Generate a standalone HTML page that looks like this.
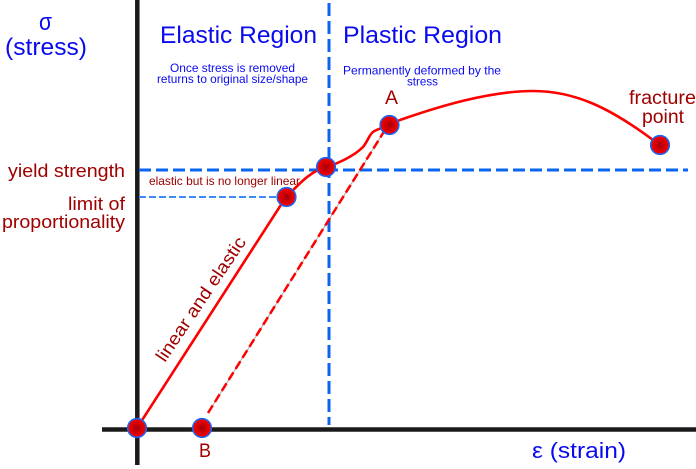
<!DOCTYPE html>
<html>
<head>
<meta charset="utf-8">
<style>
  html,body{margin:0;padding:0;background:#ffffff;}
  svg{display:block;}
  .blue{fill:#0a0af0;font-family:"Liberation Sans",Arial,sans-serif;}
  .dred{fill:#a00000;font-family:"Liberation Sans",Arial,sans-serif;}
</style>
</head>
<body>
<svg width="696" height="469" viewBox="0 0 696 469" xmlns="http://www.w3.org/2000/svg">
  <defs>
    <radialGradient id="dot" cx="50%" cy="50%" r="50%">
      <stop offset="0%" stop-color="#a00010"/>
      <stop offset="55%" stop-color="#d80000"/>
      <stop offset="100%" stop-color="#ff0000"/>
    </radialGradient>
  </defs>
  <rect width="696" height="469" fill="#ffffff"/>

  <!-- axes -->
  <line x1="137.3" y1="0" x2="137.3" y2="465" stroke="#1a1a1a" stroke-width="4.5"/>
  <line x1="102" y1="429.5" x2="696" y2="429.5" stroke="#1a1a1a" stroke-width="4.4"/>

  <!-- dashed guide lines -->
  <line x1="329" y1="3" x2="329" y2="425" stroke="#0a64f0" stroke-width="3" stroke-dasharray="13 5"/>
  <line x1="139" y1="170" x2="688" y2="170" stroke="#0a64f0" stroke-width="3" stroke-dasharray="12 5"/>
  <line x1="139" y1="197" x2="280" y2="197" stroke="#3a8af8" stroke-width="2" stroke-dasharray="7 3"/>

  <!-- dashed red unloading line -->
  <line x1="208" y1="413" x2="385" y2="130" stroke="#999999" stroke-width="0.8"/>
  <line x1="208" y1="413" x2="385" y2="130" stroke="#ff0000" stroke-width="2.5" stroke-dasharray="9 4"/>

  <!-- stress-strain curve -->
  <path d="M137,428 L286,197 C296,188 308,172 326,167 C340,163 355,155 363,147 C368,141 369,135 373,132 C377,129 383,128 389,125 L400,120 C440,106 490,91 533,91 C575,91 610,108 653,140"
        fill="none" stroke="#ff0000" stroke-width="2.6" stroke-linejoin="round" stroke-linecap="round"/>

  <!-- points -->
  <g stroke="#1a64f0" stroke-width="1.6" fill="url(#dot)">
    <circle cx="137" cy="428" r="9.3"/>
    <circle cx="202" cy="428" r="9.3"/>
    <circle cx="286.5" cy="197" r="9.3"/>
    <circle cx="326" cy="167" r="9.3"/>
    <circle cx="389.5" cy="125" r="9.3"/>
    <circle cx="660" cy="145" r="9.3"/>
  </g>

  <!-- blue labels -->
  <text class="blue" x="39" y="30" font-size="24" textLength="13" lengthAdjust="spacingAndGlyphs">σ</text>
  <text class="blue" x="5" y="55" font-size="24" textLength="82" lengthAdjust="spacingAndGlyphs">(stress)</text>
  <text class="blue" x="160" y="43" font-size="24" textLength="157" lengthAdjust="spacingAndGlyphs">Elastic Region</text>
  <text class="blue" x="343" y="43" font-size="24" textLength="159" lengthAdjust="spacingAndGlyphs">Plastic Region</text>
  <text class="blue" x="170" y="72" font-size="12" textLength="125" lengthAdjust="spacingAndGlyphs">Once stress is removed</text>
  <text class="blue" x="157" y="83" font-size="12" textLength="151" lengthAdjust="spacingAndGlyphs">returns to original size/shape</text>
  <text class="blue" x="343" y="74.5" font-size="12" textLength="158" lengthAdjust="spacingAndGlyphs">Permanently deformed by the</text>
  <text class="blue" x="407" y="85.5" font-size="12" textLength="31" lengthAdjust="spacingAndGlyphs">stress</text>
  <text class="blue" x="532" y="458" font-size="22" textLength="94" lengthAdjust="spacingAndGlyphs">ε (strain)</text>

  <!-- dark red labels -->
  <text class="dred" x="385" y="104" font-size="19" textLength="13" lengthAdjust="spacingAndGlyphs">A</text>
  <text class="dred" x="629" y="104" font-size="19" textLength="67" lengthAdjust="spacingAndGlyphs">fracture</text>
  <text class="dred" x="642" y="123" font-size="19" textLength="42" lengthAdjust="spacingAndGlyphs">point</text>
  <text class="dred" x="8" y="177" font-size="18" textLength="117" lengthAdjust="spacingAndGlyphs">yield strength</text>
  <text class="dred" x="68" y="210" font-size="18" textLength="57" lengthAdjust="spacingAndGlyphs">limit of</text>
  <text class="dred" x="2" y="228" font-size="18" textLength="123" lengthAdjust="spacingAndGlyphs">proportionality</text>
  <text class="dred" x="149" y="185" font-size="12" textLength="151" lengthAdjust="spacingAndGlyphs">elastic but is no longer linear</text>
  <text class="dred" x="199" y="457" font-size="19" textLength="12" lengthAdjust="spacingAndGlyphs">B</text>
  <text class="dred" x="0" y="0" font-size="18" textLength="146" lengthAdjust="spacingAndGlyphs"
        transform="translate(165,363) rotate(-56)">linear and elastic</text>
</svg>
</body>
</html>
